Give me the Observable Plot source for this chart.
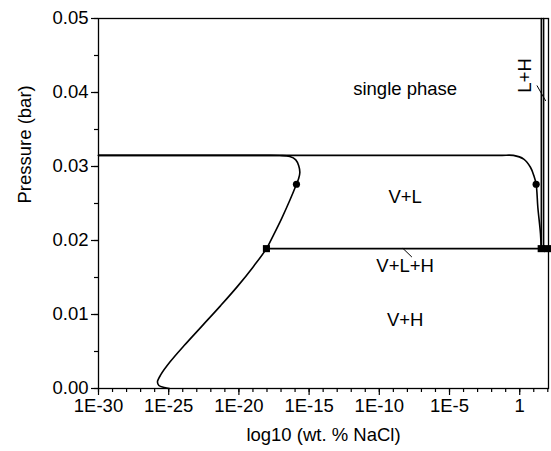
<!DOCTYPE html>
<html>
<head>
<meta charset="utf-8">
<script src="https://cdn.jsdelivr.net/npm/d3@7"></script>
<script src="https://cdn.jsdelivr.net/npm/@observablehq/plot@0.6"></script>
<style>
  html, body { margin: 0; padding: 0; background: white; }
</style>
</head>
<body>
<div id="chart"></div>
<script>
// x values are log10 (wt. % NaCl); y values are pressure (bar)
const xTicks = [-30, -25, -20, -15, -10, -5, 0];
const xMinor = d3.range(-30, 3, 1);
const yTicks = [0, 0.01, 0.02, 0.03, 0.04, 0.05];
const yMinor = [0, 0.005, 0.01, 0.015, 0.02, 0.025, 0.03, 0.035, 0.04, 0.045, 0.05];

// vapour branch (left curve)
const vapLog = [-30, -18.5, -17.09, -16.38, -15.95, -15.74, -15.66, -15.74, -15.9, -16.38, -16.95, -17.52, -18.04, -19.0, -20.1, -21.3, -22.6, -23.9, -24.9, -25.55, -25.8, -25.7, -25.3, -24.95];
const vapP   = [0.0315, 0.0315, 0.03148, 0.03135, 0.0309, 0.0301, 0.0292, 0.0284, 0.0276, 0.0254, 0.0230, 0.0208, 0.0189, 0.0164, 0.0138, 0.0112, 0.0085, 0.0058, 0.0036, 0.0019, 0.0009, 0.0004, 0.00012, 0.0];

// liquid branch (right curve)
const liqLog = [-30, -1.5, -0.45, 0.286, 0.764, 1.0, 1.17, 1.29, 1.48, 1.53];
const liqP   = [0.0315, 0.0315, 0.0315, 0.0310, 0.0299, 0.0288, 0.0276, 0.0245, 0.0209, 0.0189];

// three-phase V+L+H line
const vlhLog = [-18.04, 2.0];
const vlhP = [0.0189, 0.0189];

// halite saturation (L+H boundary)
const halLog = [1.54, 1.54];
const halP = [0.0189, 0.05];
const hal2Log = [1.7, 1.7];
const hal2P = [0.0189, 0.05];

// dots and invariant points (squares)
const dotLog = [-15.9, 1.17];
const dotP = [0.0276, 0.0276];
const sqLog = [-18.04, 1.53, 1.98];
const sqP = [0.0189, 0.0189, 0.0189];

// region labels
const labels = ["single phase", "V+L", "V+L+H", "V+H"];
const labelLog = [-8.16, -8.16, -8.16, -8.16];
const labelP = [0.0405, 0.0259, 0.0166, 0.0092];

const lhLabel = ["L+H"];
const lhLog = [0.41];
const lhP = [0.0423];

// small leader ticks
const leadVLH = {x: [-8.3, -7.7], y: [0.0189, 0.0178]};
const leadLH = {x: [1.24, 1.84], y: [0.0409, 0.0389]};

const pts = (xs, ys) => xs.map((x, i) => ({x, y: ys[i]}));
const fmtX = d => d === 0 ? "1" : `1E${d}`;

const font = "'Liberation Sans', Arial, sans-serif";
const fs = 18.5;

const chart = Plot.plot({
  width: 551,
  height: 451,
  marginLeft: 98,
  marginRight: 3,
  marginTop: 18,
  marginBottom: 63,
  style: {fontFamily: font, fontSize: fs + "px", color: "black", background: "white"},
  x: {domain: [-30, 2.05], label: null},
  y: {domain: [0, 0.05], label: null},
  marks: [
    Plot.axisX({ticks: xMinor, tickSize: 4, tickFormat: () => "", strokeWidth: 1.2, label: null}),
    Plot.axisX({ticks: xTicks, tickSize: 7, tickPadding: 3, tickFormat: fmtX, strokeWidth: 1.2, fontSize: fs, label: null}),
    Plot.axisY({ticks: yMinor, tickSize: 4, tickFormat: () => "", strokeWidth: 1.2, label: null}),
    Plot.axisY({ticks: yTicks, tickSize: 7, tickPadding: 3, tickFormat: d3.format(".2f"), strokeWidth: 1.2, fontSize: fs, label: null}),
    Plot.line(pts(vlhLog, vlhP), {x: "x", y: "y", stroke: "black", strokeWidth: 1.6}),
    Plot.line(pts(halLog, halP), {x: "x", y: "y", stroke: "black", strokeWidth: 1.6}),
    Plot.line(pts(hal2Log, hal2P), {x: "x", y: "y", stroke: "black", strokeWidth: 1.6}),
    Plot.line(pts(liqLog, liqP), {x: "x", y: "y", stroke: "black", strokeWidth: 1.6, curve: "catmull-rom"}),
    Plot.line(pts(vapLog, vapP), {x: "x", y: "y", stroke: "black", strokeWidth: 1.6, curve: "catmull-rom"}),
    Plot.line(pts(leadVLH.x, leadVLH.y), {x: "x", y: "y", stroke: "black", strokeWidth: 1}),
    Plot.line(pts(leadLH.x, leadLH.y), {x: "x", y: "y", stroke: "black", strokeWidth: 1}),
    Plot.dot(pts(dotLog, dotP), {x: "x", y: "y", r: 3.6, fill: "black"}),
    Plot.dot(pts(sqLog, sqP), {x: "x", y: "y", r: 4, symbol: "square", fill: "black"}),
    Plot.text(labels, {x: (d, i) => labelLog[i], y: (d, i) => labelP[i], text: d => d, fontSize: fs, fill: "black"}),
    Plot.text(lhLabel, {x: (d, i) => lhLog[i], y: (d, i) => lhP[i], text: d => d, rotate: -90, fontSize: fs, fill: "black"}),
    Plot.text(["log10 (wt. % NaCl)"], {frameAnchor: "bottom", dy: 52, fontSize: fs, fill: "black"}),
    Plot.text(["Pressure (bar)"], {frameAnchor: "left", dx: -73, rotate: -90, fontSize: fs, fill: "black"}),
    Plot.frame({stroke: "black", strokeWidth: 1.3})
  ]
});
document.getElementById("chart").appendChild(chart);
</script>
</body>
</html>
